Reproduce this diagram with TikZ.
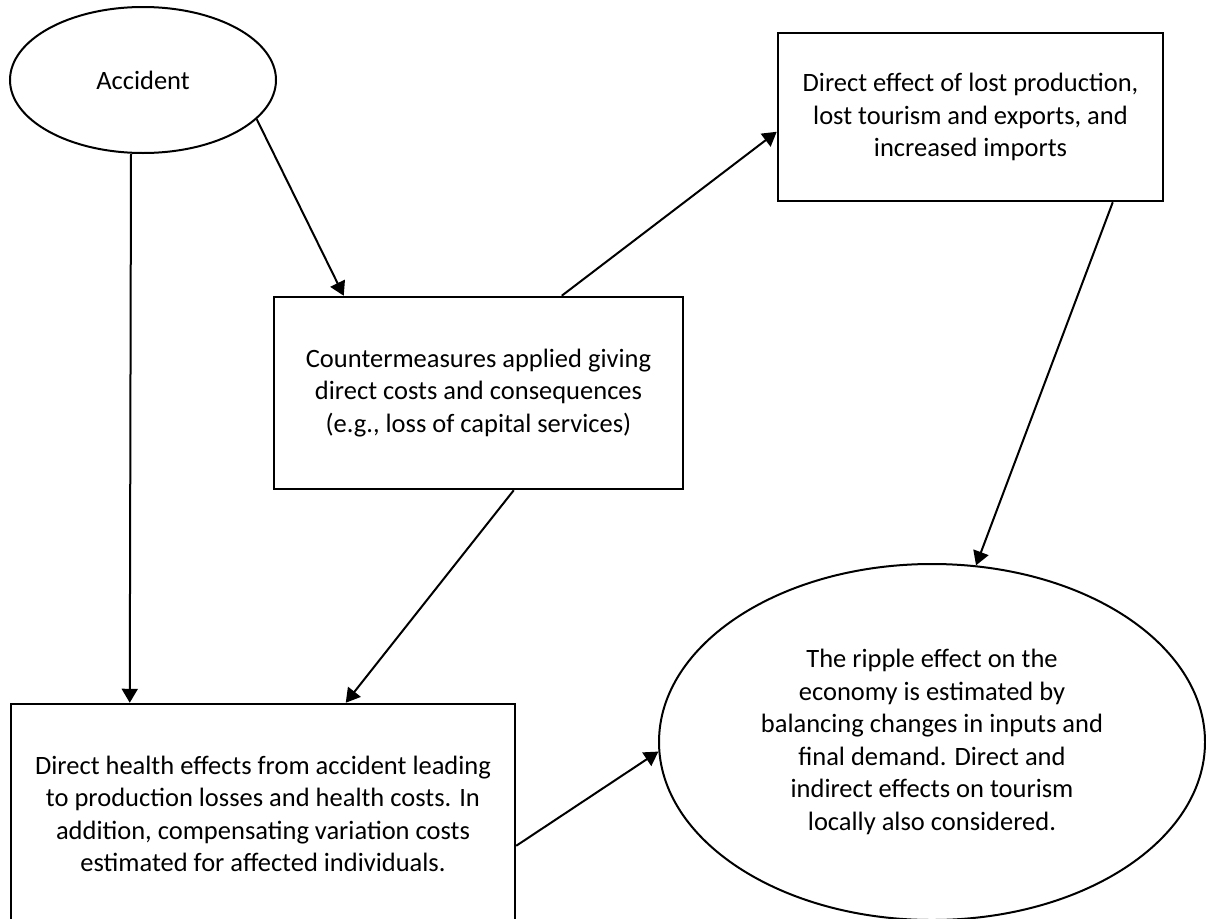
\documentclass[tikz,border=0pt]{standalone}
\usepackage{fontspec}
\setmainfont{Carlito}
\usetikzlibrary{arrows.meta,shapes.geometric}
\tikzset{
  boxnode/.style={draw=black, line width=2.5pt, rectangle, inner sep=0pt, align=center,
    font=\fontsize{26.5}{32.5}\selectfont},
  ellnode/.style={draw=black, line width=2pt, ellipse, inner sep=0pt, align=center,
    font=\fontsize{26.5}{32.5}\selectfont},
  conn/.style={line width=2pt, -{Triangle[length=14pt,width=16pt]}}
}
\begin{document}
\begin{tikzpicture}[x=1pt,y=-1pt]
\useasboundingbox (0,0) rectangle (1206,918);
\node[ellnode, minimum width=266pt, minimum height=146pt] (acc) at (143,80) {Accident};
\node[boxnode, minimum width=385pt, minimum height=168pt] (tr) at (970.5,117)
  {Direct effect of lost production,\\lost tourism and exports, and\\increased imports};
\node[boxnode, minimum width=409pt, minimum height=192pt] (mid) at (478.5,393)
  {Countermeasures applied giving\\direct costs and consequences\\(e.g., loss of capital services)};
\node[boxnode, minimum width=504pt, minimum height=220pt] (bl) at (263,814)
  {Direct health effects from accident leading\\to production losses and health costs. In\\addition, compensating variation costs\\estimated for affected individuals.};
\node[ellnode, minimum width=546pt, minimum height=356pt] (rip) at (932,742)
  {The ripple effect on the\\economy is estimated by\\balancing changes in inputs and\\final demand. Direct and\\indirect effects on tourism\\locally also considered.};
\draw[conn] ([xshift=-12pt]acc.south) -- ([xshift=120pt]bl.north west);
\draw[conn] (acc.341.6) -- ([xshift=71pt]mid.north west);
\draw[conn] ([xshift=289pt]mid.north west) -- ([yshift=-100pt]tr.north west);
\draw[conn] ([xshift=336pt]tr.south west) -- (rip.76.3);
\draw[conn] ([xshift=241pt]mid.south west) -- ([xshift=336pt]bl.north west);
\draw[conn] ([yshift=-143pt]bl.north east) -- (rip.182.7);
\end{tikzpicture}
\end{document}
